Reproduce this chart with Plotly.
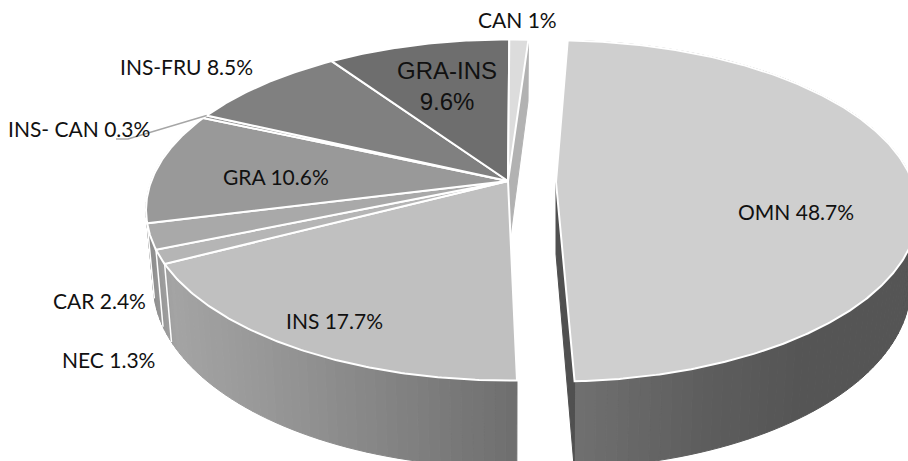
import numpy as np
import plotly.graph_objects as go

# Share of each slice (percent), clockwise from the detached OMN slice
categories = ["OMN", "INS", "NEC", "CAR", "GRA", "INS- CAN", "INS-FRU", "GRA-INS", "CAN"]
shares = [48.7, 17.7, 1.3, 2.4, 10.6, 0.3, 8.5, 9.6, 1.0]
top_grays = [207, 192, 181, 169, 153, 146, 128, 110, 220]

# Projection of the tilted disc
W, H = 908, 461
RX, RY = 356.7, 165.6
PERSP = 0.17
DEPTH = 72
TAPER = 0.98
HUB_MAIN = (508.0, 181.0)
HUB_OMN = (556.0, 182.0)
START_OMN = 2.2
START_REST = 178.8
DEG_PER_PCT = 3.6

# Gray ramp along the outer wall, by screen x
WALL_X = [145, 170, 300, 517, 575, 700, 800, 908]
WALL_G = [142, 164, 146, 110, 112, 94, 85, 85]


def rim(hub, angle, lower=False):
    t = np.radians(angle)
    u, v = np.sin(t), np.cos(t)
    k = 1 / (1 + PERSP * v)
    x = hub[0] + RX * u * k
    y = hub[1] - RY * v * k
    if lower:
        x = hub[0] + TAPER * (x - hub[0])
        y = y + DEPTH * k
    return x, y


def gray(level):
    level = int(round(level))
    return f"rgb({level},{level},{level})"


fig = go.Figure()


def polygon(xs, ys, fill, line=None, width=0):
    fig.add_trace(go.Scatter(
        x=list(xs) + [xs[0]], y=list(ys) + [ys[0]], mode="lines", fill="toself",
        fillcolor=fill, line=dict(color=line or fill, width=width or 1),
        hoverinfo="skip", showlegend=False,
    ))


def wall(hub, a0, a1):
    grid = np.arange(a0, a1, 1.5).tolist() + [a1]
    for a, b in zip(grid[:-1], grid[1:]):
        ux0, uy0 = rim(hub, a)
        ux1, uy1 = rim(hub, b)
        lx0, ly0 = rim(hub, a, True)
        lx1, ly1 = rim(hub, b, True)
        level = np.interp((ux0 + ux1) / 2, WALL_X, WALL_G)
        polygon([ux0, ux1, lx1, lx0], [uy0, uy1, ly1, ly0], gray(level))


def seam(hub, angle):
    x0, y0 = rim(hub, angle)
    x1, y1 = rim(hub, angle, True)
    fig.add_trace(go.Scatter(x=[x0, x1], y=[y0, y1], mode="lines",
                             line=dict(color="white", width=1.5),
                             hoverinfo="skip", showlegend=False))


def top_face(hub, a0, a1, level):
    grid = np.linspace(a0, a1, max(3, int((a1 - a0) * 2)))
    pts = [rim(hub, a) for a in grid]
    polygon([hub[0]] + [p[0] for p in pts], [hub[1]] + [p[1] for p in pts],
            gray(level), line="white", width=2)


# Sweep of each slice on the disc
spans = []
angle = START_REST
for share in shares[1:]:
    spans.append((angle, angle + share * DEG_PER_PCT))
    angle += share * DEG_PER_PCT
omn_span = (START_OMN, START_OMN + shares[0] * DEG_PER_PCT)

# Main group: outer wall, inner cut face of CAN, then the top faces
wall(HUB_MAIN, spans[0][0], spans[3][1])
for a0, a1 in spans[:3]:
    seam(HUB_MAIN, a1)

end = spans[-1][1]
rx, ry = rim(HUB_MAIN, end)
lx, ly = rim(HUB_MAIN, end, True)
polygon([HUB_MAIN[0], rx, lx, HUB_MAIN[0]],
        [HUB_MAIN[1], ry, ly, HUB_MAIN[1] + DEPTH], gray(178))

for (a0, a1), level in zip(spans, top_grays[1:]):
    top_face(HUB_MAIN, a0, a1, level)

# Detached OMN slice
wall(HUB_OMN, *omn_span)
rx, ry = rim(HUB_OMN, omn_span[1])
lx, ly = rim(HUB_OMN, omn_span[1], True)
polygon([HUB_OMN[0], rx, lx, HUB_OMN[0]],
        [HUB_OMN[1], ry, ly, HUB_OMN[1] + DEPTH], gray(80))
top_face(HUB_OMN, *omn_span, top_grays[0])

# Leader line for the thinnest slice
mid = sum(spans[4]) / 2 + (spans[4][1] - spans[4][0]) / 2
lead_x, lead_y = rim(HUB_MAIN, mid)
fig.add_trace(go.Scatter(x=[lead_x, 128, 116], y=[lead_y, 139, 139], mode="lines",
                         line=dict(color="#a6a6a6", width=1.5),
                         hoverinfo="skip", showlegend=False))

# Slice labels
label_pos = {
    "OMN": (796, 211), "INS": (334, 320), "NEC": (108, 359), "CAR": (99, 300),
    "GRA": (276, 176), "INS- CAN": (79, 128), "INS-FRU": (186, 66), "CAN": (517, 19),
}


def pct(value):
    return f"{value:g}%"


annotations = []
for name, share in zip(categories, shares):
    if name == "GRA-INS":
        annotations.append(dict(x=447, y=86, text=f"{name}<br>{pct(share)}",
                                font=dict(family="Liberation Sans", size=24, color="#111111")))
    else:
        annotations.append(dict(x=label_pos[name][0], y=label_pos[name][1],
                                text=f"{name} {pct(share)}",
                                font=dict(family="Lato", size=21, color="#111111")))
for a in annotations:
    a.update(xref="x", yref="y", showarrow=False, xanchor="center", yanchor="middle")

fig.update_layout(
    width=W, height=H, margin=dict(l=0, r=0, t=0, b=0),
    paper_bgcolor="white", plot_bgcolor="white", showlegend=False,
    xaxis=dict(range=[0, W], visible=False, fixedrange=True),
    yaxis=dict(range=[H, 0], visible=False, fixedrange=True),
    annotations=annotations,
)
fig.write_html("out.html", config=dict(displayModeBar=False))
